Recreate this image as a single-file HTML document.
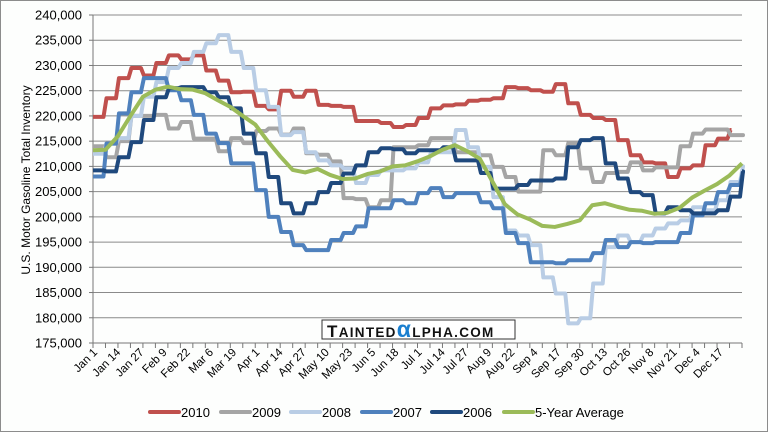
<!DOCTYPE html>
<html><head><meta charset="utf-8"><style>
html,body{margin:0;padding:0;background:#fff}
svg{display:block;font-family:"Liberation Sans",sans-serif}
</style></head><body>
<svg id="chart" width="769" height="433" viewBox="0 0 769 433">
<rect x="0.5" y="0.5" width="767" height="431" fill="#fdfefd" stroke="#8c8c8c"/>
<g id="grid"></g>
<g id="yticks"></g>
<g id="xticks"></g>
<text transform="translate(30,180) rotate(-90)" text-anchor="middle" font-size="12" fill="#000">U.S. Motor Gasoline Total Inventory</text>
<g id="series"></g>
<g>
<rect x="322" y="320" width="193" height="19" fill="#fff" stroke="#333" stroke-width="1"/>
<text x="327" y="337" font-size="17" font-weight="bold" fill="#111" letter-spacing="1.3">T<tspan font-size="13.5">AINTED</tspan><tspan fill="#1a7fd0" font-size="23" font-weight="bold">α</tspan><tspan font-size="13.5">LPHA.COM</tspan></text>
</g>
<g id="legend"></g>
</svg>
<script>
const yTicks=[175000,180000,185000,190000,195000,200000,205000,210000,215000,220000,225000,230000,235000,240000];
const xLabels=["Jan 1","Jan 14","Jan 27","Feb 9","Feb 22","Mar 6","Mar 19","Apr 1","Apr 14","Apr 27","May 10","May 23","Jun 5","Jun 18","Jul 1","Jul 14","Jul 27","Aug 9","Aug 22","Sep 4","Sep 17","Sep 30","Oct 13","Oct 26","Nov 8","Nov 21","Dec 4","Dec 17"];
const seriesNames=["2010","2009","2008","2007","2006","5-Year Average"];
const s2010=[219.8,223.5,227.5,229.5,228.0,230.5,232.0,231.2,232.0,229.0,227.0,224.7,224.8,222.0,221.3,225.0,223.8,225.0,222.2,222.0,221.8,219.0,219.0,218.6,217.8,218.2,219.6,221.5,222.1,222.3,223.0,223.2,223.5,225.7,225.5,225.1,224.8,226.3,222.5,220.2,219.6,219.2,215.2,212.2,210.8,210.6,207.9,209.6,210.2,214.2,215.5,217.2];
const s2009=[214,211.8,215,220,220,220.2,217.5,218.8,215.5,215.5,213,215.6,214.6,217,217.5,216.3,217.5,212.6,212.3,211,203.7,203.5,201.9,203.3,213.8,213.8,214.2,215.6,215.6,212.8,212.8,212.2,209.9,207.9,205,205,213.2,212.2,214.6,209.6,206.9,208.7,208.9,210.8,209.2,209.8,209.8,214,216.5,217.3,217.3,216.2,216.2];
const s2008=[212.5,214.5,215.6,220,223.8,226.7,229.5,230.5,232.7,234.4,236,232.7,229.5,225.1,221.8,216.2,216.8,212.8,211.2,210.2,209.6,206.7,208.3,209.2,209.2,209.6,210.8,212.8,212.8,217.2,213.8,209.9,203.9,197.3,196.3,194.4,188,184.8,178.9,179.9,186.8,194,196.3,195,196.3,197.7,198.7,199.3,201.9,201.3,203.3,206.9,210];
const s2007=[208,214.5,220.5,224.7,227.5,227.5,225.1,223.1,220.2,216.5,214.6,210.6,210.6,205.3,200,197,194.4,193.4,193.4,195.4,196.8,198.1,201.7,201.7,203.3,202.7,204.7,205.7,203.9,204.7,204.7,202.9,201.7,196.8,194.8,191,191,190.8,191.4,191.4,192.8,195.4,194,195,194.8,195,195,196.8,200.3,202.7,204.9,206.3,209];
const s2006=[209.2,209,211.8,214.8,219.2,223.7,225.5,225.7,225.7,224.7,223.7,221.5,216.5,212.6,207.9,202.7,200.7,202.7,204.9,206.7,208.6,210.2,212.8,213.6,213.4,212.6,213.2,213.2,213.8,211.2,211.2,208.7,205.6,205.6,206.3,207.2,207.2,207.6,213.8,215.2,215.6,210.6,207.6,204.9,204.3,200.7,201.9,201.3,200.7,200.7,201.3,204,209];
const sAvg=[213.2,213.3,216,220,223.8,225.2,225.8,225.3,225.2,224.5,223.1,221.8,220,218.3,215,212,209.3,208.8,209.5,208.3,207.5,207.6,208.5,209,210,210.2,211,212,213.3,214.2,213,211.5,207,202.5,200.5,199.5,198.2,198,198.6,199.3,202.3,202.7,202,201.4,201.2,200.6,200.8,201.8,203.8,205.2,206.5,208.2,210.6];

const NS="http://www.w3.org/2000/svg";
const X0=93,X1=742,Y0=343,YT=15,W=52;
const xw=i=>X0+(X1-X0)*i/W;
const yv=v=>Y0-(v-175000)*(Y0-YT)/65000;
const yk=v=>yv(v*1000);
function mk(t,a,p){const e=document.createElementNS(NS,t);for(const k in a)e.setAttribute(k,a[k]);p.appendChild(e);return e;}
const grid=document.getElementById('grid'),yt=document.getElementById('yticks'),xt=document.getElementById('xticks');
yTicks.forEach(v=>{
  const y=yv(v);
  const l=mk('line',{x1:X0,x2:X1,y1:y,y2:y,stroke:v===175000?'#777':'#8a8a8a','stroke-width':1},grid);
  
  
  const tk=mk('line',{x1:X0-4,x2:X0,y1:y,y2:y,stroke:'#777'},grid);
  
  
  const t=mk('text',{x:X0-11,y:y+4.5,'text-anchor':'end','font-size':13,fill:'#000'},yt);
  t.textContent=v.toLocaleString('en-US');
  
  
});
mk('line',{x1:X0,x2:X0,y1:YT,y2:Y0,stroke:'#777'},grid);
for(let i=0;i<=W;i++){
  const tk=mk('line',{x1:xw(i),x2:xw(i),y1:Y0,y2:Y0+5,stroke:'#777'},grid);
  
  
}
xLabels.forEach((s,i)=>{
  const x=X0+(X1-X0)*(i*13)/364+5;
  const t=mk('text',{transform:`translate(${x},${Y0+10}) rotate(-45)`,'text-anchor':'end','font-size':11.5,fill:'#000'},xt);
  t.textContent=s;
  
  
});
const colors=["#c0504d","#a5a5a5","#b9cde5","#4f81bd","#1f497d","#9bbb59"];
const data=[s2010,s2009,s2008,s2007,s2006,sAvg];
const sg=document.getElementById('series');
data.forEach((arr,k)=>{
  let d;
  if(k<5){
    d=`M${xw(0)},${yk(arr[0])}`;
    for(let i=0;i<arr.length;i++){
      const xe=Math.min(xw(i+1),X1);
      if(i<arr.length-1){d+=` L${xe-2},${yk(arr[i])} L${xe+1},${yk(arr[i+1])}`;}
      else d+=` L${Math.min(xw(i)+ (k===0?2:0),X1)},${yk(arr[i])}`;
    }
  } else {
    d=arr.map((v,i)=>(i?'L':'M')+xw(i)+','+yk(v)).join(' ');
  }
  const p=mk('path',{d:d,fill:'none',stroke:colors[k],'stroke-width':4,'stroke-linejoin':'round'},sg);
  
  
});
const lg=document.getElementById('legend');
const lx=[150,221,291,362,432,504];
seriesNames.forEach((n,k)=>{
  const g=mk('g',{},lg);
  
  
  mk('line',{x1:lx[k],x2:lx[k]+29,y1:412,y2:412,stroke:colors[k],'stroke-width':4,'stroke-linecap':'round'},g);
  const t=mk('text',{x:lx[k]+31,y:417,'font-size':13,fill:'#000'},g);
  t.textContent=n;
});
</script>
</body></html>
